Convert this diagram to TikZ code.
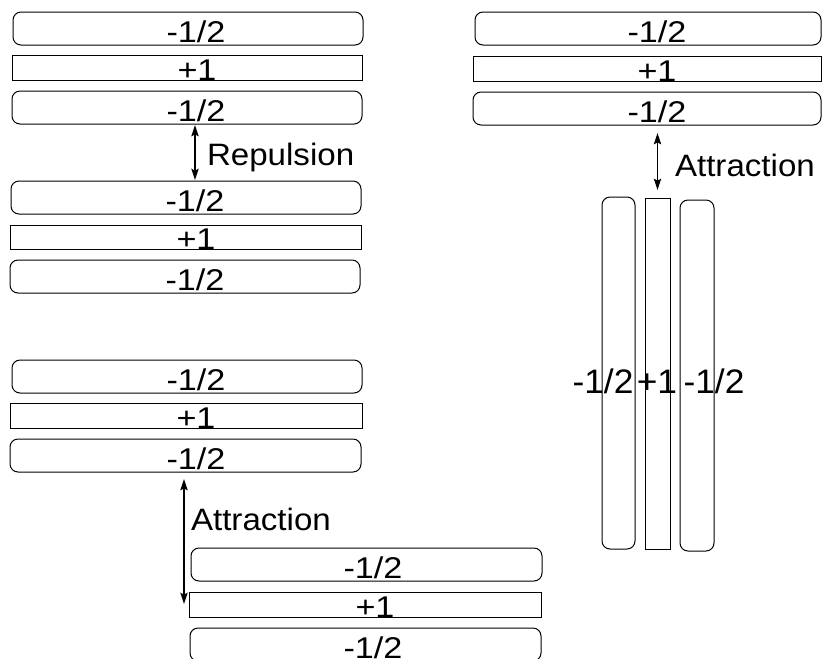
\documentclass[tikz,border=0pt]{standalone}
\usepackage{fontspec}
\setmainfont{Liberation Sans}
\usetikzlibrary{fit,arrows.meta}
\newcommand{\chg}[1]{\scalebox{1.14}[1]{\fontsize{22.5pt}{22.5pt}\selectfont #1}}
\newcommand{\bigchg}[1]{\scalebox{1.04}[1]{\fontsize{25.5pt}{25.5pt}\selectfont #1}}
\newcommand{\forcelbl}[1]{\scalebox{1.07}[1]{\fontsize{23.2pt}{23.2pt}\selectfont #1}}
\tikzset{
  rbox/.style={draw=black, line width=0.75pt, rounded corners=6pt, inner sep=0pt},
  sbox/.style={draw=black, line width=0.75pt, inner sep=0pt},
  txt/.style={anchor=base, inner sep=0pt, outer sep=0pt},
  ftxt/.style={anchor=base west, inner sep=0pt, outer sep=0pt},
  dar/.style={line width=1pt, {Stealth[length=8.5pt,width=5.5pt,inset=1.5pt]}-{Stealth[length=8.5pt,width=5.5pt,inset=1.5pt]}}
}
\begin{document}
\begin{tikzpicture}[x=0.75pt,y=-0.75pt]
\useasboundingbox (0,0) rectangle (822,658);
% top-left group
\node[rbox, fit={(13,12) (363,45)}] (b1) {};
\node[sbox, fit={(12,55) (362,80)}] (b2) {};
\node[rbox, fit={(12,91) (362,124)}] (b3) {};
\node[rbox, fit={(11,181) (361,214)}] (b4) {};
\node[sbox, fit={(10,225) (361,249)}] (b5) {};
\node[rbox, fit={(10,260) (360,293)}] (b6) {};
\node[txt] (t1) at (196,42.5) {\chg{-1/2}};
\node[txt] (t2) at (197,80) {\chg{+1}};
\node[txt] (t3) at (196,121.5) {\chg{-1/2}};
\node[txt] (t4) at (195,211.5) {\chg{-1/2}};
\node[txt] (t5) at (196,249) {\chg{+1}};
\node[txt] (t6) at (195,290.5) {\chg{-1/2}};
\coordinate (r1) at (195,125);
\coordinate (r2) at (195,180);
\draw[dar] (r1) -- (r2);
\node[ftxt] (rep) at (207,165.5) {\forcelbl{Repulsion}};
% bottom-left group
\node[rbox, fit={(12,360) (362,393)}] (b7) {};
\node[sbox, fit={(10,403) (362,428)}] (b8) {};
\node[rbox, fit={(10,439) (361,472)}] (b9) {};
\node[rbox, fit={(191,548) (542,581)}] (b10) {};
\node[sbox, fit={(189,592) (541,617)}] (b11) {};
\node[rbox, fit={(190,628) (541,661)}] (b12) {};
\node[txt] (t7) at (196,390.5) {\chg{-1/2}};
\node[txt] (t8) at (196,428) {\chg{+1}};
\node[txt] (t9) at (196,469.5) {\chg{-1/2}};
\node[txt] (t10) at (373,578.5) {\chg{-1/2}};
\node[txt] (t11) at (375,617) {\chg{+1}};
\node[txt] (t12) at (373,658.5) {\chg{-1/2}};
\coordinate (a1) at (184,479);
\coordinate (a2) at (184,604);
\draw[dar] (a1) -- (a2);
\node[ftxt] (att1) at (191,530) {\forcelbl{Attraction}};
% top-right group
\node[rbox, fit={(475,12) (821,45)}] (b13) {};
\node[sbox, fit={(473,56) (821.5,81)}] (b14) {};
\node[rbox, fit={(473,92) (821,125)}] (b15) {};
\node[txt] (t13) at (657,42.5) {\chg{-1/2}};
\node[txt] (t14) at (657,81) {\chg{+1}};
\node[txt] (t15) at (657,122.5) {\chg{-1/2}};
\coordinate (c1) at (657.5,133);
\coordinate (c2) at (657.5,190);
\draw[dar] (c1) -- (c2);
\node[ftxt] (att2) at (675,176) {\forcelbl{Attraction}};
% vertical group
\node[rbox, fit={(602,197) (635,549)}] (v1) {};
\node[sbox, fit={(645,198) (670,549)}] (v2) {};
\node[rbox, fit={(680,200) (714,551)}] (v3) {};
\node[txt] (tv1) at (603,393) {\bigchg{-1/2}};
\node[txt] (tv2) at (657,393) {\bigchg{+1}};
\node[txt] (tv3) at (714,393) {\bigchg{-1/2}};
\end{tikzpicture}
\end{document}
